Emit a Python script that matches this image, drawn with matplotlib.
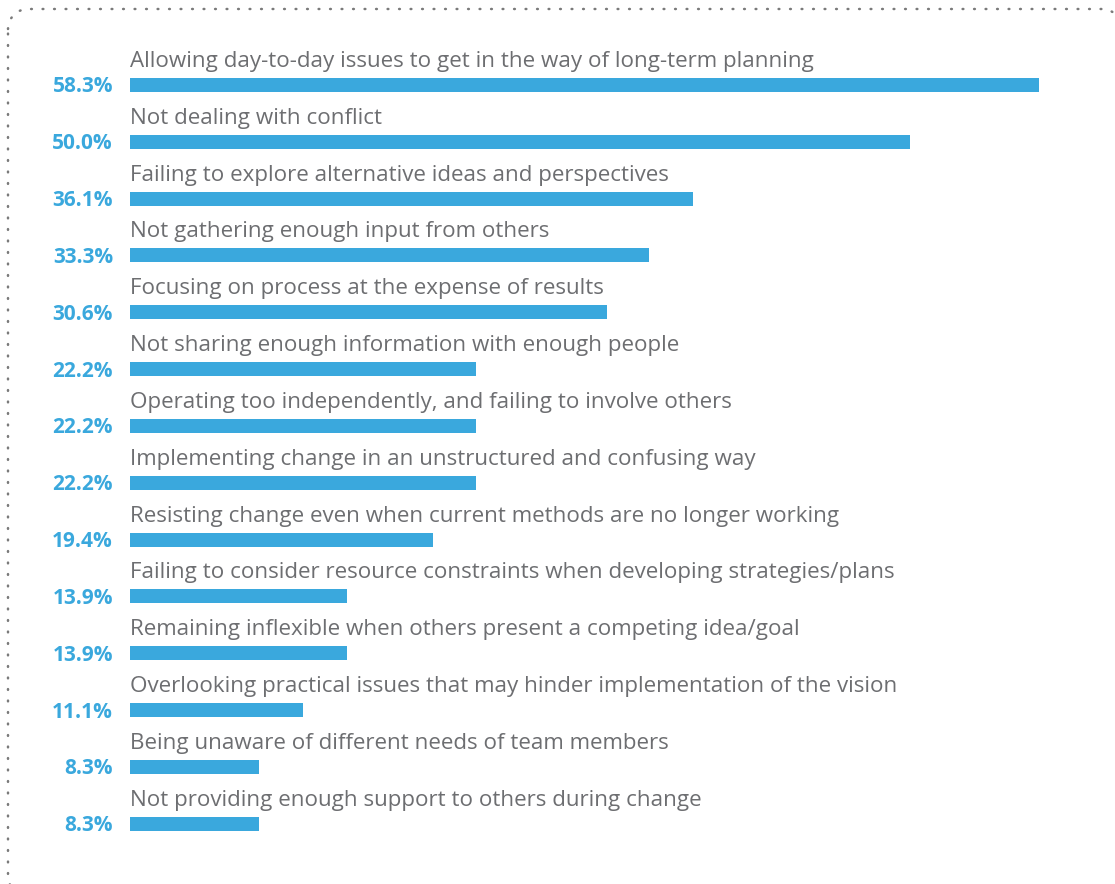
import numpy as np
import matplotlib
matplotlib.use("Agg")
import matplotlib.pyplot as plt
from matplotlib.lines import Line2D
from matplotlib.transforms import IdentityTransform

categories = [
    "Allowing day-to-day issues to get in the way of long-term planning",
    "Not dealing with conflict",
    "Failing to explore alternative ideas and perspectives",
    "Not gathering enough input from others",
    "Focusing on process at the expense of results",
    "Not sharing enough information with enough people",
    "Operating too independently, and failing to involve others",
    "Implementing change in an unstructured and confusing way",
    "Resisting change even when current methods are no longer working",
    "Failing to consider resource constraints when developing strategies/plans",
    "Remaining inflexible when others present a competing idea/goal",
    "Overlooking practical issues that may hinder implementation of the vision",
    "Being unaware of different needs of team members",
    "Not providing enough support to others during change",
]
values = [58.3, 50.0, 36.1, 33.3, 30.6, 22.2, 22.2, 22.2, 19.4, 13.9, 13.9, 11.1, 8.3, 8.3]

W, H, DPI = 1115, 884, 100
BLUE = "#3aa8dd"
GREY = "#6d6e71"

fig = plt.figure(figsize=(W / DPI, H / DPI), dpi=DPI)
fig.patch.set_facecolor("white")

# pixel layout of the bar area
x0_px, px_per_unit = 130, 15.6
y0_px, row_px = 84.8, 56.85

ax = fig.add_axes([0, 0, 1, 1])
ax.set_xlim(-x0_px / px_per_unit, (W - x0_px) / px_per_unit)
ax.set_ylim((H - y0_px) / row_px, -y0_px / row_px)
ax.axis("off")

ypos = list(range(len(values)))
ax.barh(ypos, values, height=14 / row_px, color=BLUE, left=0)

font = "Open Sans"
for i, (cat, v) in enumerate(zip(categories, values)):
    ax.text(0, i - 18 / row_px, cat, ha="left", va="baseline",
            fontsize=16.1, color=GREY, family=font)
    ax.text(-17 / px_per_unit, i + 7.5 / row_px, f"{v:.1f}%", ha="right",
            va="baseline", fontsize=15.0, color=BLUE, family=font,
            fontweight="bold")


def rounded_rect(left, top, right, bottom, r, n=12):
    """Outline of a rounded rectangle in pixel coordinates (y measured down)."""
    pts = []
    corners = [
        (left + r, top + r, 180, 270),
        (right - r, top + r, 270, 360),
        (right - r, bottom - r, 0, 90),
        (left + r, bottom - r, 90, 180),
    ]
    for cx, cy, a0, a1 in corners:
        a = np.radians(np.linspace(a0, a1, n))
        pts.extend(zip(cx + r * np.cos(a), cy + r * np.sin(a)))
    pts.append(pts[0])
    xs = np.array([p[0] for p in pts])
    ys = H - np.array([p[1] for p in pts])
    return xs, ys


fx, fy = rounded_rect(8, 9, 1122, 896, 20)
frame = Line2D(fx, fy, transform=IdentityTransform(), color="#7a7a7a",
               linewidth=1.8, linestyle=(0, (0.3, 4.3)),
               dash_capstyle="round", clip_on=False)
fig.add_artist(frame)

fig.savefig("out.png", dpi=DPI, facecolor="white")
